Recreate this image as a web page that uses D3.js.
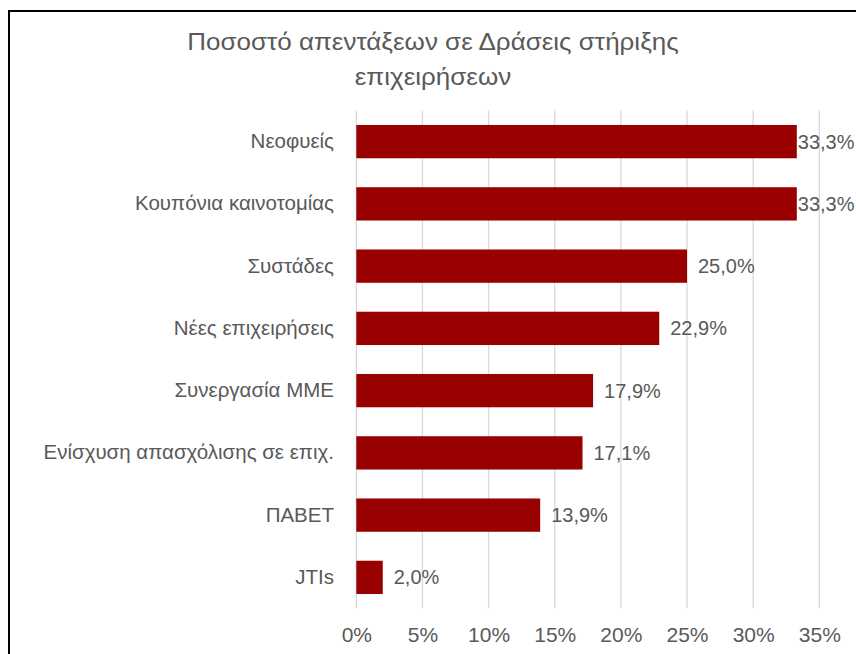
<!DOCTYPE html>
<html><head><meta charset="utf-8">
<script src="https://cdn.jsdelivr.net/npm/d3@7"></script>
<style>
html,body{margin:0;padding:0;background:#fff;}
svg{display:block;}
text{font-family:"Liberation Sans",Arial,Helvetica,sans-serif;fill:#595959;}
</style></head>
<body>
<script>
const categories = ["Νεοφυείς","Κουπόνια καινοτομίας","Συστάδες","Νέες επιχειρήσεις","Συνεργασία ΜΜΕ","Ενίσχυση απασχόλισης σε επιχ.","ΠΑΒΕΤ","JTIs"];
const values = [33.3, 33.3, 25.0, 22.9, 17.9, 17.1, 13.9, 2.0];
const tickValues = [0,5,10,15,20,25,30,35];
const titleLines = ["Ποσοστό απεντάξεων σε Δράσεις στήριξης","επιχειρήσεων"];

const W = 856, H = 654;
const svg = d3.select("body").append("svg").attr("width", W).attr("height", H);

// frame
svg.append("path").attr("d", `M9,${H+5} L9,11 L${W+5},11`).attr("fill","none").attr("stroke","#000").attr("stroke-width",2);

const x = d3.scaleLinear().domain([0,35]).range([356.3, 819.3]);
const y = d3.scaleBand().domain(categories).range([110.5, 608.5]).paddingInner(0.465).paddingOuter(0.2325);

// gridlines
svg.append("g").selectAll("line").data(tickValues).join("line")
  .attr("x1", d=>x(d)).attr("x2", d=>x(d))
  .attr("y1", 110.5).attr("y2", 608.5)
  .attr("stroke", "#d9d9d9").attr("stroke-width", 1.3);

// x axis labels
const xAxis = d3.axisBottom(x).tickValues(tickValues).tickSize(0).tickPadding(0).tickFormat(d=>d+"%");
const gx = svg.append("g").attr("transform","translate(0,626)").call(xAxis);
gx.select(".domain").remove();
gx.selectAll("text").attr("font-size", 21).attr("dy", "0.75em").style("fill","#595959");

// y axis labels
const yAxis = d3.axisLeft(y).tickSize(0).tickPadding(0);
const gy = svg.append("g").attr("transform","translate(334,0)").call(yAxis);
gy.select(".domain").remove();
gy.selectAll("text").attr("font-size", 20.5).style("fill","#595959");

// bars
svg.append("g").selectAll("rect").data(values).join("rect")
  .attr("x", x(0)).attr("y", (d,i)=>y(categories[i]))
  .attr("width", d=>x(d)-x(0)).attr("height", y.bandwidth())
  .attr("fill", "#990000");

// value labels
const lbl = svg.append("g").selectAll("text").data(values).join("text")
  .attr("y", (d,i)=>y(categories[i]) + y.bandwidth()/2)
  .attr("dy", "0.35em").attr("font-size", 20)
  .text(d=>d.toFixed(1).replace(".", ",")+"%");
lbl.each(function(d){
  const w = this.getComputedTextLength();
  let xx = x(d) + 11;
  if (xx + w > W - 1) xx = x(d) + 1;
  d3.select(this).attr("x", xx);
});

// title
const tt = svg.append("g").selectAll("text").data(titleLines).join("text")
  .attr("x", 433).attr("y", (d,i)=>50 + i*35)
  .attr("text-anchor","middle").attr("font-size", 23)
  .text(d=>d);
tt.each(function(){
  const w = this.getComputedTextLength();
  d3.select(this).attr("textLength", w*1.13).attr("lengthAdjust","spacingAndGlyphs");
});
</script>
</body></html>
